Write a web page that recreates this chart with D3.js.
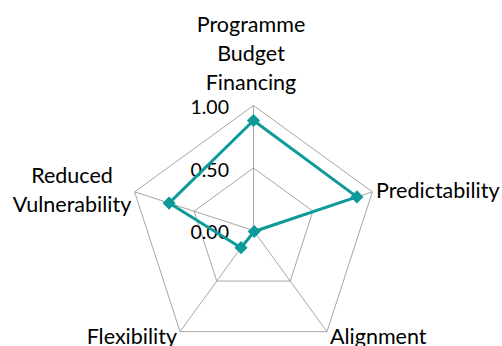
<!DOCTYPE html>
<html><head><meta charset="utf-8">
<script src="https://cdn.jsdelivr.net/npm/d3@7"></script>
<style>body{margin:0;background:#fff}svg{display:block}</style>
</head><body>
<svg id="c" width="502" height="346"></svg>
<script>
const categories = ["Programme Budget Financing", "Predictability", "Alignment", "Flexibility", "Reduced Vulnerability"];
const labelLines = [["Programme","Budget","Financing"],["Predictability"],["Alignment"],["Flexibility"],["Reduced","Vulnerability"]];
const values = [0.88, 0.87, 0.01, 0.17, 0.71];
const tickValues = [0, 0.5, 1];
const tickLabels = ["0.00", "0.50", "1.00"];

const svg = d3.select("#c");
const cx = 253.5, cy = 230.5, R = 125;
const font = "Lato, 'Open Sans', sans-serif", fs = 21.5, tfs = 19.5;
const r = d3.scaleLinear().domain([0, 1]).range([0, R]);
const ang = d3.scaleLinear().domain([0, categories.length]).range([0, 2 * Math.PI]);
const pt = (i, v) => [cx + r(v) * Math.sin(ang(i)), cy - r(v) * Math.cos(ang(i))];

const g = svg.append("g");
// grid pentagons
tickValues.filter(t => t > 0).forEach(t => {
  g.append("path")
    .attr("d", d3.line()(categories.map((c, i) => pt(i, t))) + "Z")
    .attr("fill", "none").attr("stroke", "#a6a6a6").attr("stroke-width", 1);
});
// spokes
categories.forEach((c, i) => {
  const p = pt(i, 1);
  g.append("line").attr("x1", cx).attr("y1", cy).attr("x2", p[0]).attr("y2", p[1])
    .attr("stroke", "#a6a6a6").attr("stroke-width", 1);
});
// tick labels
tickValues.forEach((t, k) => {
  g.append("text").attr("x", cx - 24.5).attr("y", cy - r(t) + 8.5)
    .attr("text-anchor", "end").attr("font-family", font).attr("font-size", tfs)
    .attr("fill", "#000").text(tickLabels[k]);
});
// data line
const color = "#0f9a9a";
g.append("path")
  .attr("d", d3.line()(values.map((v, i) => pt(i, v))) + "Z")
  .attr("fill", "none").attr("stroke", color).attr("stroke-width", 3).attr("stroke-linejoin", "round");
g.selectAll(".m").data(values).join("path")
  .attr("transform", (v, i) => `translate(${pt(i, v)})`)
  .attr("d", d3.symbol(d3.symbolDiamond2, 110)())
  .attr("fill", color);
// category labels
const labelPos = [
  {x: 251, y: 32, anchor: "middle", lh: 29},
  {x: 376, y: 198, anchor: "start", lh: 29},
  {x: 330, y: 344, anchor: "start", lh: 29},
  {x: 177, y: 344, anchor: "end", lh: 29},
  {x: 72, y: 183, anchor: "middle", lh: 28.5}
];
labelLines.forEach((lines, i) => {
  const lp = labelPos[i];
  const t = g.append("text").attr("font-family", font).attr("font-size", fs)
    .attr("text-anchor", lp.anchor).attr("fill", "#000");
  lines.forEach((l, j) => t.append("tspan").attr("x", lp.x).attr("y", lp.y + j * lp.lh).text(l));
});
</script>
</body></html>
